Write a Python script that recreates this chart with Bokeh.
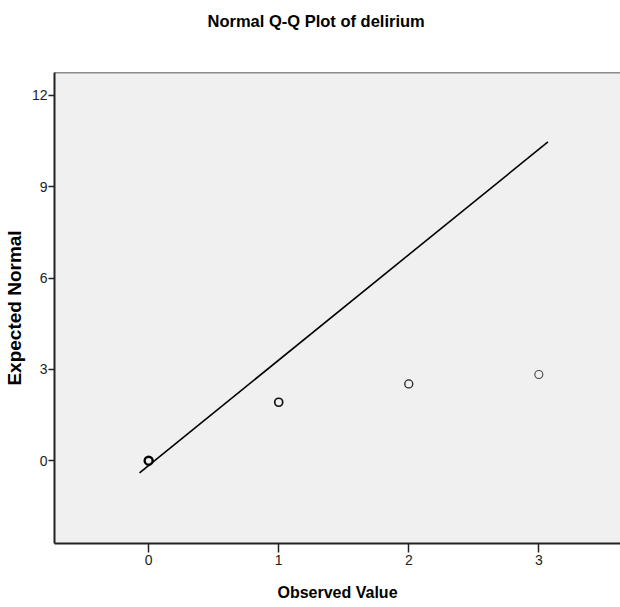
from bokeh.plotting import figure
from bokeh.models import Range1d, FixedTicker, Span, ColumnDataSource
from bokeh.embed import file_html
from bokeh.resources import INLINE

# Data
observed = [0, 1, 2, 3]
expected = [0.0, 1.92, 2.52, 2.83]
line_x = [-0.07, 3.07]
line_y = [-0.40, 10.47]
x_ticks = [0, 1, 2, 3]
y_ticks = [0, 3, 6, 9, 12]

# styles (overplotting makes the first points darker)
pt_width = [2.4, 1.7, 1.3, 1.1]
pt_color = ["#000000", "#111111", "#222222", "#444444"]

SANS = "Liberation Sans"

p = figure(width=620, height=607, output_backend="svg", toolbar_location=None,
           x_range=Range1d(-0.724, 3.628), y_range=Range1d(-2.72, 12.75),
           min_border_left=53, min_border_right=0, min_border_top=72, min_border_bottom=64)
p.background_fill_color = "#f0f0f0"
p.border_fill_color = "white"
p.outline_line_color = None
p.grid.visible = False

p.title.text = "Normal Q-Q Plot of delirium\n\u00a0\n\u00a0"
p.title.text_font = SANS
p.title.text_font_size = "16.5px"
p.title.text_font_style = "bold"
p.title.text_color = "black"
p.title.align = "left"
p.title.offset = 153
p.title.text_line_height = 1.05

src = ColumnDataSource(dict(x=observed, y=expected, lw=pt_width, lc=pt_color))

p.line(line_x, line_y, line_color="black", line_width=1.6)
p.scatter("x", "y", source=src, size=8, marker="circle", fill_color=None,
          line_color="lc", line_width="lw")

top = Span(location=12.75, dimension="width", line_color="#222222", line_width=1.5)
p.add_layout(top)

for ax in (p.xaxis[0], p.yaxis[0]):
    ax.axis_line_color = "#222222"
    ax.axis_line_width = 2
    ax.major_tick_line_color = "#222222"
    ax.major_tick_line_width = 1.5
    ax.major_tick_in = 0
    ax.minor_tick_line_color = None
    ax.major_label_text_font = SANS
    ax.major_label_text_font_size = "14px"
    ax.major_label_text_color = "#222222"
    ax.axis_label_text_font = SANS
    ax.axis_label_text_font_style = "bold"
    ax.axis_label_text_color = "black"

p.xaxis.ticker = FixedTicker(ticks=x_ticks)
p.yaxis.ticker = FixedTicker(ticks=y_ticks)
p.xaxis.major_tick_out = 9
p.yaxis.major_tick_out = 6
p.xaxis.major_label_standoff = 2
p.yaxis.major_label_standoff = 1

p.xaxis.axis_label = "Observed Value"
p.xaxis.axis_label_text_font_size = "16px"
p.xaxis.axis_label_standoff = 16

p.yaxis.axis_label = "Expected Normal"
p.yaxis.axis_label_text_font_size = "19px"
p.yaxis.axis_label_standoff = 4

open("out.html", "w").write(file_html(p, INLINE))
